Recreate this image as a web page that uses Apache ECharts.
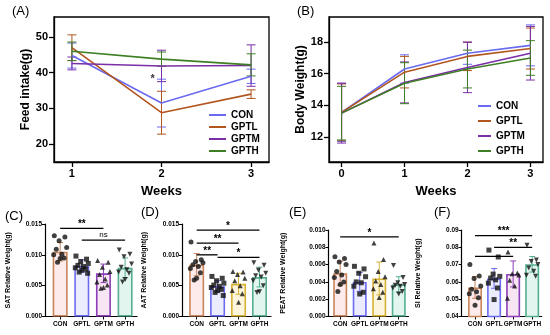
<!DOCTYPE html>
<html><head><meta charset="utf-8">
<script src="https://cdn.jsdelivr.net/npm/echarts@6/dist/echarts.min.js"></script>
<style>html,body{margin:0;padding:0;background:#fff}#c{width:550px;height:335px}</style>
</head><body><div id="c"></div>
<script>
// ---------- DATA ----------
const groups = ['CON', 'GPTL', 'GPTM', 'GPTH'];
const groupIdx = [0, 1, 2, 3];
// (A) Feed intake
const weeksA = [1, 2, 3];
const feedCON = [44.8, 31.5, 39.0];
const feedGPTL = [47.0, 28.8, 34.0];
const feedGPTM = [42.6, 41.9, 42.0];
const feedGPTH = [46.0, 43.8, 42.2];
const feedSdCON = [3.5, 6.7, 2.0];
const feedSdGPTL = [3.6, 6.0, 1.2];
const feedSdGPTM = [1.8, 4.4, 5.8];
const feedSdGPTH = [2.6, 2.0, 3.1];
const feedTicksY = [20, 30, 40, 50];
const feedStar = [[1.9, 38.3]];
// (B) Body weight
const weeksB = [0, 1, 2, 3];
const bwCON = [13.55, 16.3, 17.3, 17.8];
const bwGPTL = [13.55, 16.1, 17.1, 17.6];
const bwGPTM = [13.5, 15.45, 16.4, 17.3];
const bwGPTH = [13.5, 15.4, 16.3, 17.0];
const bwSdCON = [1.85, 0.9, 0.7, 1.3];
const bwSdGPTL = [1.8, 1.0, 0.9, 1.3];
const bwSdGPTM = [1.9, 1.3, 1.6, 1.7];
const bwSdGPTH = [1.7, 1.3, 1.2, 1.1];
const bwTicksY = [12, 14, 16, 18];
// (C) SAT
const satMean = [0.0105, 0.0082, 0.0070, 0.0079];
const satSd = [0.0015, 0.0010, 0.0015, 0.0016];
const satCON = [0.0131, 0.0129, 0.0123, 0.0112, 0.0109, 0.0101, 0.0100, 0.0095, 0.0094, 0.0088];
const satGPTL = [0.0098, 0.0093, 0.0089, 0.0086, 0.0083, 0.0081, 0.0079, 0.0077, 0.0075, 0.0072, 0.0070];
const satGPTM = [0.0091, 0.0088, 0.0080, 0.0073, 0.0068, 0.0061, 0.0056, 0.0051, 0.0047, 0.0046];
const satGPTH = [0.0108, 0.0101, 0.0097, 0.0085, 0.0080, 0.0076, 0.0072, 0.0070, 0.0060, 0.0056];
const satSig = [[0, 2, 0.0143], [1, 3, 0.0124]];
const satSigText = ['**', 'ns'];
// (D) AAT
const aatMean = [0.0084, 0.0049, 0.0053, 0.0064];
const aatSd = [0.0018, 0.0009, 0.0017, 0.0016];
const aatCON = [0.0121, 0.0092, 0.0089, 0.0087, 0.0084, 0.0081, 0.0078, 0.0071, 0.0062, 0.0059];
const aatGPTL = [0.0065, 0.0062, 0.0058, 0.0054, 0.0051, 0.0049, 0.0047, 0.0044, 0.0042, 0.0039, 0.0034];
const aatGPTM = [0.0073, 0.0072, 0.0068, 0.0062, 0.0058, 0.0050, 0.0042, 0.0037, 0.0023];
const aatGPTH = [0.0087, 0.0083, 0.0075, 0.0070, 0.0066, 0.0064, 0.0058, 0.0050, 0.0040, 0.0039];
const aatSig = [[0, 3, 0.0140], [0, 2, 0.0119], [0, 1, 0.0100], [1, 3, 0.0096]];
const aatSigText = ['*', '**', '**', '*'];
// (E) PEAT
const peatMean = [0.0050, 0.0040, 0.0044, 0.0037];
const peatSd = [0.0014, 0.0011, 0.0019, 0.0009];
const peatCON = [0.0069, 0.0067, 0.0063, 0.0060, 0.0052, 0.0048, 0.0045, 0.0040, 0.0037, 0.0029];
const peatGPTL = [0.0058, 0.0055, 0.0050, 0.0046, 0.0040, 0.0039, 0.0035, 0.0028, 0.0026];
const peatGPTM = [0.0085, 0.0066, 0.0052, 0.0046, 0.0041, 0.0037, 0.0032, 0.0028, 0.0022];
const peatGPTH = [0.0059, 0.0045, 0.0039, 0.0037, 0.0036, 0.0035, 0.0033, 0.0029, 0.0026];
const peatSig = [[0, 3, 0.0092]];
const peatSigText = ['*'];
// (F) SI
const siMean = [0.0568, 0.0620, 0.0646, 0.0702];
const siSd = [0.0063, 0.0057, 0.0075, 0.0045];
const siCON = [0.0700, 0.0634, 0.0620, 0.0576, 0.0557, 0.0543, 0.0532, 0.0508, 0.0465];
const siGPTL = [0.0784, 0.0744, 0.0645, 0.0632, 0.0622, 0.0612, 0.0593, 0.0565, 0.0498];
const siGPTM = [0.0773, 0.0652, 0.0647, 0.0640, 0.0609, 0.0576, 0.0505];
const siGPTH = [0.0812, 0.0727, 0.0718, 0.0700, 0.0681, 0.0662, 0.0639, 0.0633];
const siSig = [[0, 3, 0.0868], [1, 3, 0.0800], [0, 2, 0.0747]];
const siSigText = ['***', '**', ''];

// ---------- STYLE ----------
const FONT = 'Liberation Sans, Arial, sans-serif';
const lineCol = ['#6a6af0', '#b2561f', '#7a2ea8', '#3f7f24'];
const edgeA = ['#c9845a', '#6b6bf2', '#8a3fb8', '#55ae8f'];
const edgeB = ['#c9845a', '#6b6bf2', '#d6b235', '#55ae8f'];
const fillA = ['#fdeaea', '#ececff', '#f8e5f4', '#e2f6ef'];
const fillB = ['#fdeaea', '#ececff', '#fdf6dd', '#e2f6ef'];
const jitter = [-0.27, 0.22, -0.05, 0.3, -0.18, 0.08, -0.3, 0.18, 0.0, -0.12, 0.27];
const symbols = ['circle', 'rect', 'triangle', 'triangle'];
const symRot = [0, 0, 0, 180];

const chart = echarts.init(document.getElementById('c'));

const grids = [
  {left: 54, top: 17, width: 215, height: 145, show: true, borderColor: '#000', borderWidth: 1.3},
  {left: 329, top: 17, width: 214, height: 145, show: true, borderColor: '#000', borderWidth: 1.3},
  {left: 45, top: 224, width: 92, height: 92.5},
  {left: 182, top: 224, width: 89, height: 92.5},
  {left: 328.5, top: 230, width: 80, height: 86.5},
  {left: 461.7, top: 230, width: 80, height: 86.5}
];

const xAxes = [];
const yAxes = [];
const series = [];

function lineAxisX(gi, min, max, ticks) {
  return {type: 'value', gridIndex: gi, min: min, max: max,
    name: 'Weeks', nameLocation: 'middle', nameGap: 23,
    nameTextStyle: {fontFamily: FONT, fontWeight: 'bold', fontSize: 13, color: '#000'},
    axisLine: {show: true, onZero: false, lineStyle: {color: '#000', width: 1.3}},
    axisTick: {show: true, length: 5, lineStyle: {color: '#000', width: 1.3}, customValues: ticks},
    axisLabel: {fontFamily: FONT, fontWeight: 'bold', fontSize: 11, color: '#000', margin: 6, customValues: ticks},
    splitLine: {show: false}};
}
function lineAxisY(gi, min, max, ticks, name) {
  return {type: 'value', gridIndex: gi, min: min, max: max,
    name: name, nameLocation: 'middle', nameGap: 21,
    nameTextStyle: {fontFamily: FONT, fontWeight: 'bold', fontSize: 12, color: '#000'},
    axisLine: {show: true, onZero: false, lineStyle: {color: '#000', width: 1.3}},
    axisTick: {show: true, length: 5, lineStyle: {color: '#000', width: 1.3}, customValues: ticks},
    axisLabel: {fontFamily: FONT, fontWeight: 'bold', fontSize: 11, color: '#000', margin: 6, customValues: ticks},
    splitLine: {show: false}};
}

xAxes.push(lineAxisX(0, 0.8, 3.2, weeksA));
yAxes.push(lineAxisY(0, 15, 55.6, feedTicksY, 'Feed intake(g)'));
xAxes.push(lineAxisX(1, -0.2, 3.2, weeksB));
yAxes.push(lineAxisY(1, 10.4, 19.6, bwTicksY, 'Body Weight(g)'));

function errSeries(xi, yi, xs, means, sds, color, cap) {
  return {type: 'custom', xAxisIndex: xi, yAxisIndex: yi, z: 3, silent: true,
    data: xs.map((x, i) => [x, means[i] - sds[i], means[i] + sds[i]]),
    encode: {x: 0, y: [1, 2]},
    renderItem: function (params, api) {
      const x = api.value(0);
      const p1 = api.coord([x, api.value(1)]);
      const p2 = api.coord([x, api.value(2)]);
      const c = typeof color === 'function' ? color(params.dataIndex) : color;
      const st = {stroke: c, lineWidth: 1};
      return {type: 'group', children: [
        {type: 'line', shape: {x1: p1[0], y1: p1[1], x2: p2[0], y2: p2[1]}, style: st},
        {type: 'line', shape: {x1: p1[0] - cap, y1: p1[1], x2: p1[0] + cap, y2: p1[1]}, style: st},
        {type: 'line', shape: {x1: p2[0] - cap, y1: p2[1], x2: p2[0] + cap, y2: p2[1]}, style: st}
      ]};
    }};
}

const feedMeans = [feedCON, feedGPTL, feedGPTM, feedGPTH];
const feedSds = [feedSdCON, feedSdGPTL, feedSdGPTM, feedSdGPTH];
const bwMeans = [bwCON, bwGPTL, bwGPTM, bwGPTH];
const bwSds = [bwSdCON, bwSdGPTL, bwSdGPTM, bwSdGPTH];

for (let g = 0; g < 4; g++) {
  series.push(errSeries(0, 0, weeksA, feedMeans[g], feedSds[g], lineCol[g], 4.5));
  series.push({type: 'line', name: groups[g], xAxisIndex: 0, yAxisIndex: 0, symbol: 'none', z: 4,
    data: weeksA.map((w, i) => [w, feedMeans[g][i]]), lineStyle: {color: lineCol[g], width: 1.6},
    itemStyle: {color: lineCol[g]}});
}
for (let g = 0; g < 4; g++) {
  series.push(errSeries(1, 1, weeksB, bwMeans[g], bwSds[g], lineCol[g], 4.5));
  series.push({type: 'line', name: groups[g], xAxisIndex: 1, yAxisIndex: 1, symbol: 'none', z: 4,
    data: weeksB.map((w, i) => [w, bwMeans[g][i]]), lineStyle: {color: lineCol[g], width: 1.6},
    itemStyle: {color: lineCol[g]}});
}
series.push({type: 'scatter', xAxisIndex: 0, yAxisIndex: 0, symbolSize: 0, data: feedStar, silent: true,
  label: {show: true, formatter: '*', position: 'inside', fontFamily: FONT, fontWeight: 'bold', fontSize: 11, color: '#000'}});

// ---------- BAR PANELS ----------
function barPanel(gi, means, sds, pts, edges, fills, sig, sigText, xMin, xMax, yMin, yMax, yInt, dec, yName, nameGap, barW) {
  const xi = xAxes.length;
  xAxes.push({type: 'value', gridIndex: gi, min: xMin, max: xMax,
    axisLine: {show: true, onZero: false, lineStyle: {color: '#000', width: 1.2}},
    axisTick: {show: true, length: 3, lineStyle: {color: '#000', width: 1}, customValues: groupIdx},
    axisLabel: {fontFamily: FONT, fontWeight: 'bold', fontSize: 6.5, color: '#000', margin: 4,
      customValues: groupIdx, formatter: v => groups[Math.round(v)]},
    splitLine: {show: false}});
  const yi = yAxes.length;
  yAxes.push({type: 'value', gridIndex: gi, min: yMin, max: yMax, interval: yInt,
    name: yName, nameLocation: 'middle', nameGap: nameGap,
    nameTextStyle: {fontFamily: FONT, fontWeight: 'bold', fontSize: 7, color: '#000'},
    axisLine: {show: true, onZero: false, lineStyle: {color: '#000', width: 1.2}},
    axisTick: {show: true, length: 3, lineStyle: {color: '#000', width: 1}},
    axisLabel: {fontFamily: FONT, fontWeight: 'bold', fontSize: 6.5, color: '#000', margin: 3,
      formatter: v => v.toFixed(dec)},
    splitLine: {show: false}});
  series.push({type: 'bar', xAxisIndex: xi, yAxisIndex: yi, barWidth: barW, z: 2, silent: true,
    data: means.map((m, i) => ({value: [groupIdx[i], m], itemStyle: {color: fills[i], borderColor: edges[i], borderWidth: 1.6}}))});
  series.push(errSeries(xi, yi, groupIdx, means, sds, i => edges[i], 3));
  for (let g = 0; g < 4; g++) {
    series.push({type: 'scatter', xAxisIndex: xi, yAxisIndex: yi, symbol: symbols[g], symbolRotate: symRot[g],
      symbolSize: 5, z: 5, silent: true, itemStyle: {color: '#111'},
      data: pts[g].map((v, i) => [groupIdx[g] + jitter[i % jitter.length], v])});
  }
  series.push({type: 'custom', xAxisIndex: xi, yAxisIndex: yi, z: 6, silent: true,
    data: sig, encode: {x: [0, 1], y: 2},
    renderItem: function (params, api) {
      const p1 = api.coord([api.value(0), api.value(2)]);
      const p2 = api.coord([api.value(1), api.value(2)]);
      const t = sigText[params.dataIndex];
      const isNs = t === 'ns';
      return {type: 'group', children: [
        {type: 'line', shape: {x1: p1[0], y1: p1[1], x2: p2[0], y2: p2[1]}, style: {stroke: '#000', lineWidth: 1.3}},
        {type: 'text', style: {text: t, x: (p1[0] + p2[0]) / 2, y: p1[1] - (isNs ? 1.5 : -1),
          align: 'center', verticalAlign: 'bottom', fontFamily: FONT, fontWeight: isNs ? 'normal' : 'bold',
          fontSize: isNs ? 8 : 10, fill: '#000'}}
      ]};
    }});
}

barPanel(2, satMean, satSd, [satCON, satGPTL, satGPTM, satGPTH], edgeA, fillA, satSig, satSigText,
  -0.7, 3.55, 0, 0.015, 0.005, 3, 'SAT Relative Weight(g)', 33, 15);
barPanel(3, aatMean, aatSd, [aatCON, aatGPTL, aatGPTM, aatGPTH], edgeB, fillB, aatSig, aatSigText,
  -0.7, 3.55, 0, 0.015, 0.005, 3, 'AAT Relative Weight(g)', 34, 15);
barPanel(4, peatMean, peatSd, [peatCON, peatGPTL, peatGPTM, peatGPTH], edgeB, fillB, peatSig, peatSigText,
  -0.6, 3.5, 0, 0.010, 0.002, 3, 'PEAT Relative Weight(g)', 42, 14);
barPanel(5, siMean, siSd, [siCON, siGPTL, siGPTM, siGPTH], edgeA, fillA, siSig, siSigText,
  -0.7, 3.5, 0.04, 0.09, 0.01, 2, 'SI Relative Weight(g)', 40, 14);

const titleStyle = {fontFamily: FONT, fontWeight: 'normal', fontSize: 13, color: '#000'};
chart.setOption({
  animation: false,
  backgroundColor: '#fff',
  title: [
    {text: '(A)', left: 12, top: 5, textStyle: titleStyle, padding: 0},
    {text: '(B)', left: 297, top: 5, textStyle: titleStyle, padding: 0},
    {text: '(C)', left: 5, top: 210, textStyle: titleStyle, padding: 0},
    {text: '(D)', left: 141, top: 206, textStyle: titleStyle, padding: 0},
    {text: '(E)', left: 289, top: 206, textStyle: titleStyle, padding: 0},
    {text: '(F)', left: 434, top: 206, textStyle: titleStyle, padding: 0}
  ],
  legend: [
    {data: groups, orient: 'vertical', left: 209, top: 109, padding: 0, itemGap: 0, icon: 'rect',
      itemWidth: 17, itemHeight: 2, itemStyle: {borderWidth: 0}, itemTextGap: 6, selectedMode: false,
      textStyle: {fontFamily: FONT, fontWeight: 'bold', fontSize: 10, color: '#000', lineHeight: 12}},
    {data: groups, orient: 'vertical', left: 478, top: 98.5, padding: 0, itemGap: 0, icon: 'rect',
      itemWidth: 13, itemHeight: 2, itemStyle: {borderWidth: 0}, itemTextGap: 12, selectedMode: false,
      textStyle: {fontFamily: FONT, fontWeight: 'bold', fontSize: 10, color: '#000', lineHeight: 15}}
  ],
  grid: grids,
  xAxis: xAxes,
  yAxis: yAxes,
  series: series
});
</script>
</body></html>
